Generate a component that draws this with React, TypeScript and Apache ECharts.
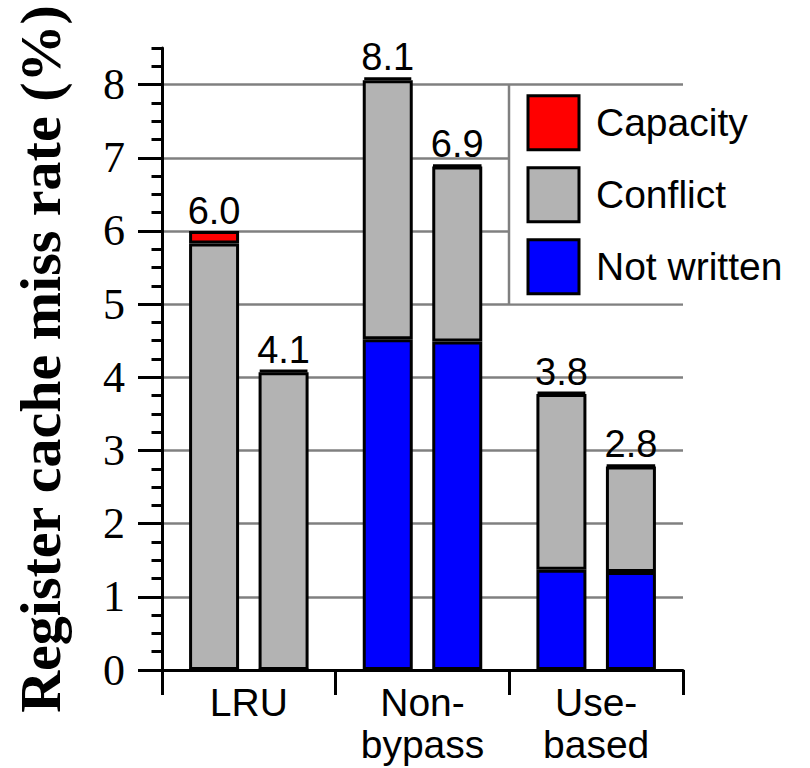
import React, { useEffect, useRef } from "react";
import * as echarts from "echarts";

const categories = ["LRU", "Non-\nbypass", "Use-\nbased"];
const legendNames = ["Capacity", "Conflict", "Not written"];
// first bar of each group
const notWrittenA = [0, 4.52, 1.37];
const conflictA = [5.83, 3.54, 2.4];
const capacityA = [0.17, 0.04, 0.03];
// second bar of each group
const notWrittenB = [0, 4.49, 1.34];
const conflictB = [4.07, 2.39, 1.44];
const capacityB = [0.03, 0.02, 0.02];
const majorTicks = [0, 1, 2, 3, 4, 5, 6, 7, 8];

const SANS = "Arial, 'Liberation Sans', sans-serif";
const SERIF = "'Times New Roman', 'Liberation Serif', serif";
const GRID_GRAY = "#808080";
const COLORS: Record<string, string> = {
  "Capacity": "#ff0000",
  "Conflict": "#b3b3b3",
  "Not written": "#0000ff",
};

function sum3(a: number[], b: number[], c: number[]) {
  return a.map((v, i) => v + b[i] + c[i]);
}

export default function App() {
  const ref = useRef<HTMLDivElement>(null);
  useEffect(() => {
    document.body.style.margin = "0";
    if (!ref.current) return;
    const chart = echarts.init(ref.current, undefined, { renderer: "svg" });
    const totalA = sum3(notWrittenA, conflictA, capacityA);
    const totalB = sum3(notWrittenB, conflictB, capacityB);

    const mk = (name: string, stack: string, data: number[], totals?: number[]) => ({
      name,
      type: "bar",
      stack,
      yAxisIndex: 0,
      barWidth: 50,
      barGap: "39%",
      data,
      itemStyle: { color: COLORS[name], borderColor: "#000", borderWidth: 3 },
      label: totals
        ? {
            show: true,
            position: "top",
            distance: 1,
            color: "#000",
            fontSize: 38,
            fontFamily: SANS,
            formatter: (p: any) => totals[p.dataIndex].toFixed(1),
          }
        : { show: false },
      emphasis: { disabled: true },
    });

    chart.setOption({
      animation: false,
      backgroundColor: "#fff",
      grid: { left: 162, right: 127, top: 48, bottom: 98 },
      legend: {
        data: legendNames,
        orient: "vertical",
        left: 510,
        top: 86,
        padding: [8.3, 20, 8, 16.5],
        itemGap: 15,
        itemWidth: 51,
        itemHeight: 54,
        icon: "rect",
        backgroundColor: "#fff",
        selectedMode: false,
        itemStyle: { borderColor: "#000", borderWidth: 3 },
        textStyle: {
          fontSize: 39,
          fontFamily: SANS,
          color: "#000",
          padding: [0, 0, 0, 12],
        },
      },
      xAxis: {
        type: "category",
        data: categories,
        axisLine: { lineStyle: { color: "#000", width: 3 } },
        axisTick: { show: true, length: 25, lineStyle: { color: "#000", width: 3 } },
        axisLabel: {
          interval: 0,
          margin: 11,
          fontSize: 39,
          lineHeight: 42,
          fontFamily: SANS,
          color: "#000",
        },
        splitLine: { show: false },
      },
      yAxis: [
        {
          type: "value",
          min: 0,
          max: 8.5,
          interval: 1,
          name: "Register cache miss rate (%)",
          nameLocation: "middle",
          nameRotate: 90,
          nameGap: 93,
          nameTextStyle: {
            fontSize: 58,
            fontWeight: "bold",
            fontFamily: SERIF,
            color: "#000",
          },
          axisLine: { show: true, lineStyle: { color: "#000", width: 3 } },
          axisTick: {
            show: true,
            length: 24,
            customValues: majorTicks,
            lineStyle: { color: "#000", width: 3 },
          },
          axisLabel: {
            customValues: majorTicks,
            margin: 37,
            fontSize: 44,
            fontFamily: SERIF,
            color: "#000",
            formatter: (v: number) => (Number.isInteger(v) ? String(v) : ""),
          },
          splitLine: {
            show: true,
            showMinLine: false,
            lineStyle: { color: GRID_GRAY, width: 2.5 },
          },
        },
        {
          type: "value",
          min: 0,
          max: 8.5,
          interval: 0.25,
          position: "left",
          axisLine: { show: false },
          axisTick: { show: true, length: 10.5, lineStyle: { color: "#000", width: 3 } },
          axisLabel: { show: false },
          splitLine: { show: false },
        },
      ],
      graphic: [
        {
          type: "line",
          z: 100,
          shape: { x1: 509, y1: 85, x2: 509, y2: 304.5 },
          style: { stroke: GRID_GRAY, lineWidth: 2.5 },
        },
      ],
      series: [
        mk("Not written", "A", notWrittenA),
        mk("Conflict", "A", conflictA),
        mk("Capacity", "A", capacityA, totalA),
        mk("Not written", "B", notWrittenB),
        mk("Conflict", "B", conflictB),
        mk("Capacity", "B", capacityB, totalB),
      ],
    });
    return () => chart.dispose();
  }, []);
  return <div ref={ref} style={{ width: 810, height: 768 }} />;
}
